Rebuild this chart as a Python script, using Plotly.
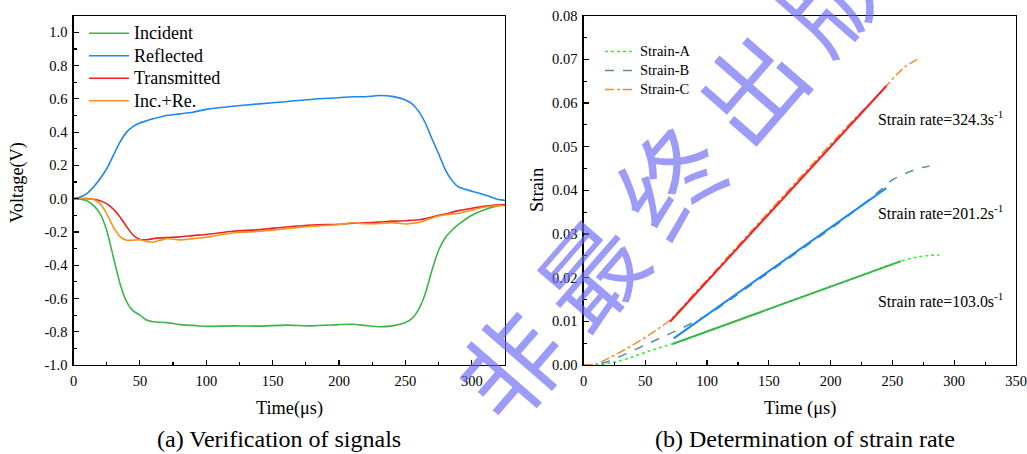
import plotly.graph_objects as go

# ---------------- data: (a) signals ----------------
T_SIG = [0, 5, 10, 15, 20, 25, 30, 35, 40, 45, 50, 55, 60, 70, 80, 90, 100, 120, 140, 160,
         180, 200, 210, 220, 230, 240, 250, 255, 260, 265, 270, 275, 280, 285, 290, 300, 310, 320, 325]
INCIDENT = [0, -0.003, -0.012, -0.04, -0.09, -0.19, -0.35, -0.51, -0.62, -0.675, -0.70, -0.73, -0.74,
            -0.745, -0.757, -0.762, -0.768, -0.765, -0.766, -0.76, -0.765, -0.757, -0.755, -0.763,
            -0.77, -0.765, -0.745, -0.72, -0.665, -0.57, -0.43, -0.31, -0.235, -0.19, -0.155, -0.10,
            -0.065, -0.042, -0.035]
REFLECTED = [0, 0.01, 0.03, 0.07, 0.12, 0.18, 0.26, 0.34, 0.40, 0.435, 0.455, 0.468, 0.48, 0.50,
             0.51, 0.52, 0.537, 0.556, 0.57, 0.583, 0.598, 0.607, 0.613, 0.613, 0.62, 0.615, 0.593,
             0.57, 0.525, 0.455, 0.36, 0.27, 0.175, 0.11, 0.07, 0.045, 0.022, -0.005, -0.01]
TRANSMITTED = [0, 0, 0, -0.004, -0.012, -0.03, -0.063, -0.11, -0.168, -0.22, -0.245, -0.247, -0.24,
               -0.234, -0.23, -0.222, -0.215, -0.196, -0.186, -0.17, -0.158, -0.154, -0.148, -0.145,
               -0.141, -0.135, -0.133, -0.13, -0.127, -0.12, -0.11, -0.10, -0.093, -0.082, -0.072,
               -0.058, -0.045, -0.038, -0.035]
INC_RE = [0, 0, 0, -0.005, -0.03, -0.09, -0.17, -0.228, -0.25, -0.249, -0.247, -0.258, -0.262,
          -0.24, -0.248, -0.24, -0.232, -0.206, -0.196, -0.18, -0.166, -0.155, -0.145, -0.151,
          -0.149, -0.144, -0.152, -0.148, -0.143, -0.13, -0.116, -0.104, -0.097, -0.092, -0.088,
          -0.068, -0.05, -0.043, -0.043]
SIGNAL_NAMES = ["Incident", "Reflected", "Transmitted", "Inc.+Re."]

# ---------------- data: (b) strain ----------------
T_A = [0, 10, 20, 30, 40, 50, 60, 70, 80, 100, 120, 140, 160, 180, 200, 220, 240, 257, 265, 270, 280, 288]
STRAIN_A = [0, 0, 0.0004, 0.001, 0.0019, 0.0029, 0.0038, 0.0047, 0.0056, 0.0077, 0.0097, 0.0118,
            0.0139, 0.0159, 0.0180, 0.0200, 0.0221, 0.0238, 0.0244, 0.0247, 0.0251, 0.0252]
T_B = [0, 10, 20, 30, 40, 50, 60, 70, 80, 90, 100, 120, 140, 160, 180, 200, 220, 240, 250, 260, 270, 280]
STRAIN_B = [0, 0.0001, 0.0008, 0.002, 0.0033, 0.0046, 0.0059, 0.0072, 0.0085, 0.0099, 0.0114, 0.0152,
            0.0192, 0.0232, 0.0272, 0.0312, 0.0354, 0.0400, 0.0424, 0.0438, 0.0449, 0.0456]
T_C = [0, 5, 10, 20, 30, 40, 50, 60, 70, 80, 90, 100, 120, 140, 160, 180, 200, 220, 240, 250, 260, 270]
STRAIN_C = [0, 0, 0.0002, 0.0015, 0.003, 0.0046, 0.0063, 0.0082, 0.0103, 0.0133, 0.0165, 0.0195,
            0.0258, 0.0320, 0.0382, 0.0444, 0.0506, 0.0566, 0.0622, 0.0655, 0.0682, 0.0700]
STRAIN_NAMES = ["Strain-A", "Strain-B", "Strain-C"]
FIT_A_T = [72, 257]
FIT_A = [0.0048, 0.0238]
FIT_B_T = [73, 245]
FIT_B = [0.0061, 0.0405]
FIT_C_T = [70, 245]
FIT_C = [0.0099, 0.0639]
RATE_LABELS = ["Strain rate=324.3s<sup>-1</sup>", "Strain rate=201.2s<sup>-1</sup>",
               "Strain rate=103.0s<sup>-1</sup>"]

# ---------------- tick labels ----------------
Y1_TICKS = [-1.0, -0.8, -0.6, -0.4, -0.2, 0.0, 0.2, 0.4, 0.6, 0.8, 1.0]
Y1_TEXT = ["-1.0", "-0.8", "-0.6", "-0.4", "-0.2", "0.0", "0.2", "0.4", "0.6", "0.8", "1.0"]
X1_TICKS = [0, 50, 100, 150, 200, 250, 300]
X2_TICKS = [0, 50, 100, 150, 200, 250, 300, 350]
Y2_TICKS = [0.0, 0.01, 0.02, 0.03, 0.04, 0.05, 0.06, 0.07, 0.08]
Y2_TEXT = ["0.00", "0.01", "0.02", "0.03", "0.04", "0.05", "0.06", "0.07", "0.08"]

W, H = 1027, 454
FONT = "Liberation Serif, Times New Roman, serif"

fig = go.Figure()

sig_vals = [INCIDENT, REFLECTED, TRANSMITTED, INC_RE]
sig_cols = ["#3cb44a", "#1e86f0", "#ec2224", "#f7921e"]
for name, vals, col in zip(SIGNAL_NAMES, sig_vals, sig_cols):
    fig.add_trace(go.Scatter(x=T_SIG, y=vals, mode="lines",
                             name="<span style='font-size:18px'>%s</span>" % name,
                             line=dict(color=col, width=1.6, shape="spline", smoothing=0.6),
                             xaxis="x", yaxis="y", legend="legend"))

st_t = [T_A, T_B, T_C]
st_v = [STRAIN_A, STRAIN_B, STRAIN_C]
st_c = ["#33ee33", "#5b8fa6", "#f58a30"]
st_d = ["dot", "dash", "dashdot"]
for name, tt, vv, col, dsh in zip(STRAIN_NAMES, st_t, st_v, st_c, st_d):
    fig.add_trace(go.Scatter(x=tt, y=vv, mode="lines",
                             name="<span style='font-size:14.5px'>%s</span>" % name,
                             line=dict(color=col, width=1.5, dash=dsh, shape="spline"),
                             xaxis="x2", yaxis="y2", legend="legend2"))
for tt, vv, col in [(FIT_A_T, FIT_A, "#3cb44a"), (FIT_B_T, FIT_B, "#1e86f0"), (FIT_C_T, FIT_C, "#ec2224")]:
    fig.add_trace(go.Scatter(x=tt, y=vv, mode="lines", showlegend=False,
                             line=dict(color=col, width=2), xaxis="x2", yaxis="y2"))

px = lambda v: v / W
py = lambda v: 1 - v / H

axis_common = dict(showline=True, linecolor="black", linewidth=1.2, mirror=True,
                   ticks="inside", ticklen=5, tickcolor="black", tickwidth=1.2,
                   showgrid=False, zeroline=False, automargin=False, ticklabelstandoff=2,
                   tickfont=dict(family=FONT, size=14.5, color="black"))

fig.update_layout(
    width=W, height=H, margin=dict(l=0, r=0, t=0, b=0),
    paper_bgcolor="white", plot_bgcolor="white",
    font=dict(family=FONT, color="black"),
    hovermode=False,
    xaxis=dict(domain=[px(73.5), px(505)], range=[0, 325], tickvals=X1_TICKS, anchor="y",
               minor=dict(ticks="inside", ticklen=3, dtick=25, tick0=0, tickcolor="black"),
               **axis_common),
    yaxis=dict(domain=[py(365), py(15.7)], range=[-1.0, 1.1], tickvals=Y1_TICKS, ticktext=Y1_TEXT,
               anchor="x",
               minor=dict(ticks="inside", ticklen=3, dtick=0.1, tick0=0, tickcolor="black"),
               **axis_common),
    xaxis2=dict(domain=[px(583.5), px(1016)], range=[0, 350], tickvals=X2_TICKS, anchor="y2",
                minor=dict(ticks="inside", ticklen=3, dtick=25, tick0=0, tickcolor="black"),
                **axis_common),
    yaxis2=dict(domain=[py(365), py(15.7)], range=[0, 0.08], tickvals=Y2_TICKS, ticktext=Y2_TEXT,
                anchor="x2",
                minor=dict(ticks="inside", ticklen=3, dtick=0.005, tick0=0, tickcolor="black"),
                **axis_common),
    legend=dict(x=px(84), y=py(17), xanchor="left", yanchor="top", bgcolor="rgba(0,0,0,0)",
                font=dict(family=FONT, size=15, color="black"), tracegroupgap=0,
                itemwidth=40),
    legend2=dict(x=px(600), y=py(37), xanchor="left", yanchor="top", bgcolor="rgba(0,0,0,0)",
                 font=dict(family=FONT, size=11.5, color="black"), tracegroupgap=0),
    showlegend=True,
)

ann = []
# axis titles
ann.append(dict(text="Time(μs)", x=px(289), y=py(408), font=dict(size=18.3)))
ann.append(dict(text="Voltage(V)", x=px(17), y=py(183), font=dict(size=18.3), textangle=-90))
ann.append(dict(text="Time (μs)", x=px(800), y=py(408), font=dict(size=18.5)))
ann.append(dict(text="Strain", x=px(537), y=py(190), font=dict(size=18.5), textangle=-90))
# captions
ann.append(dict(text="(a) Verification of signals", x=px(279), y=py(439), font=dict(size=24)))
ann.append(dict(text="(b) Determination of strain rate", x=px(805), y=py(439), font=dict(size=24)))
# strain-rate labels
for lab, yy in zip(RATE_LABELS, [118, 212, 300]):
    ann.append(dict(text=lab, x=px(876), y=py(yy), xanchor="left", font=dict(size=15.8)))
# watermark
ann.append(dict(text="非\u2009最\u2009终\u2009出\u2009版", x=px(668), y=py(178), textangle=-49,
                font=dict(family="Noto Sans CJK SC", size=102, color="rgba(105,105,245,0.66)")))

for a in ann:
    a.setdefault("xref", "paper")
    a.setdefault("yref", "paper")
    a.setdefault("showarrow", False)
    a.setdefault("xanchor", "center")
    a.setdefault("yanchor", "middle")
    a["font"].setdefault("family", FONT)
    a["font"].setdefault("color", "black")
fig.update_layout(annotations=ann)

fig.write_html("out.html", config={"displayModeBar": False, "staticPlot": True},
               post_script="document.body.style.margin='0';document.body.style.padding='0';")
